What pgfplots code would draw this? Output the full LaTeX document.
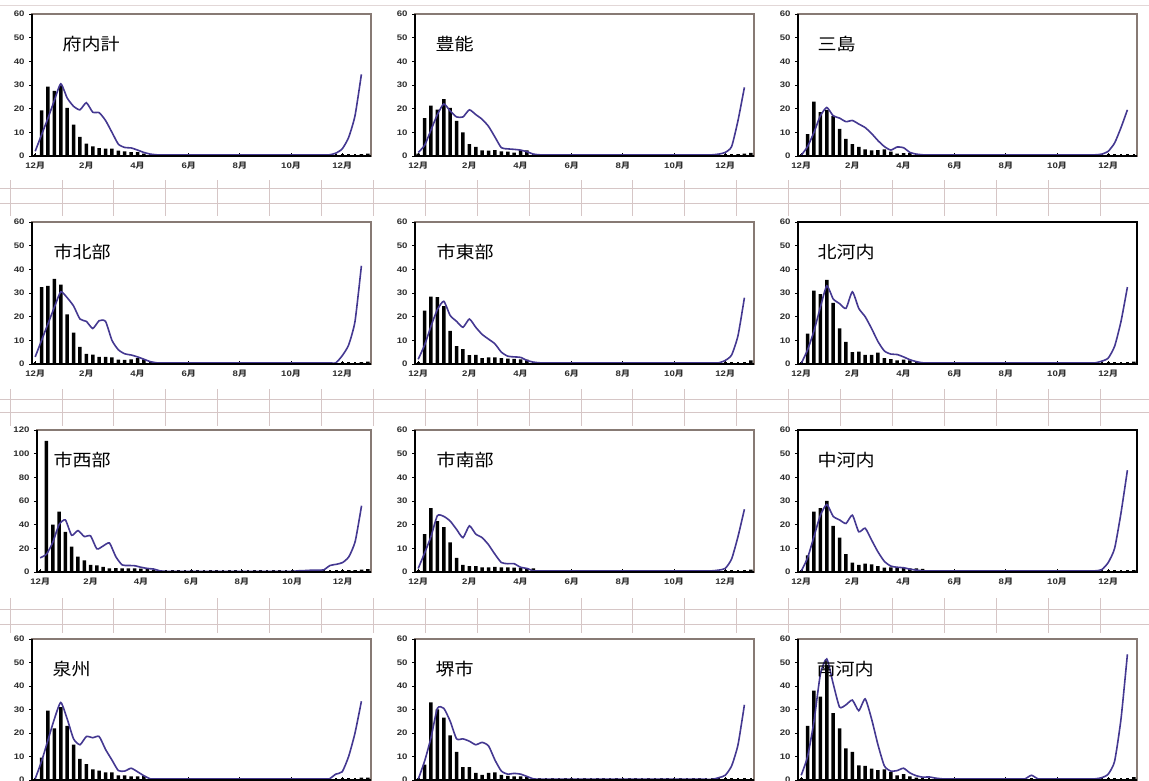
\documentclass[border=0pt]{standalone}
\usepackage{fontspec}
\setmainfont{Liberation Sans}[FakeStretch=1.2]
\newfontfamily\jp{Noto Sans CJK JP}[FakeStretch=1.12]
\usepackage{pgfplots}
\pgfplotsset{compat=1.18}
\definecolor{linec}{RGB}{68,56,145}
\definecolor{framec}{RGB}{135,122,116}
\definecolor{gridc}{RGB}{214,198,198}
\definecolor{tickc}{RGB}{45,45,45}
\pgfplotsset{
  panel/.style={
    scale only axis, width=339pt, height=142pt, anchor=north west,
    xmin=-0.5, xmax=52.5, ymin=0, ymax=60,
    ytick={0,10,...,60},
    axis line style={draw=framec, line width=1.3pt},
    xtick={0,8,16,24,32,40,48},
    xticklabels={12{\jp 月},2{\jp 月},4{\jp 月},6{\jp 月},8{\jp 月},10{\jp 月},12{\jp 月}},
    minor xtick={0,...,52},
    tick pos=left,
    xtick align=inside, ytick align=outside,
    major tick length=3pt, minor tick length=2pt,
    every major tick/.style={black, line width=0.8pt},
    every minor tick/.style={black, line width=2.6pt},
    /pgf/number format/assume math mode=true,
    ticklabel style={font=\bfseries\fontsize{8}{9}\selectfont, text=tickc},
    yticklabel style={xshift=-1pt},
    xticklabel style={yshift=-2pt},
    after end axis/.code={\draw[black,line width=1.8pt] (rel axis cs:0,1) -- (rel axis cs:0,0) -- (rel axis cs:1,0);},
  },
  blackframe/.style={axis line style={draw=black, line width=1.6pt}},
}
\newcommand{\panel}[6]{%
\begin{axis}[panel, at={(#1)}, #2]
\addplot[ybar, bar width=3.5pt, bar shift=0pt, fill=black, draw=none] coordinates {#4};
\addplot[linec, line width=1.6pt, smooth, tension=0.35, mark=none] coordinates {#5};
\node[anchor=west, font=\jp\fontsize{17}{17}\selectfont] at ([xshift=#6pt,yshift=-30pt]rel axis cs:0,1) {#3};
\end{axis}}
\begin{document}
\begin{tikzpicture}[x=1pt,y=1pt]
\path[use as bounding box] (0,0) rectangle (1149,781);
% spreadsheet grid in the background
\foreach \k in {0,...,21} {\draw[gridc, line width=0.8pt] ({10+51.9*\k},0) -- ({10+51.9*\k},781);}
\foreach \yy in {188,203,399,412,609,624} {\draw[gridc, line width=0.8pt] (0,781-\yy) -- (1149,781-\yy);}
\fill[white] (0,781) rectangle (1149,781-180);
\fill[white] (0,781-216) rectangle (1149,781-389);
\fill[white] (0,781-426) rectangle (1149,781-598);
\fill[white] (0,781-633) rectangle (1149,0);
\draw[gridc!70, line width=0.8pt] (0,776) -- (1149,776);

% Row 1
\panel{32pt,767pt}{}{府内計}
{(1,19.3)(2,29.3)(3,27.5)(4,29.8)(5,20.3)(6,13.2)(7,8.1)(8,5.2)(9,4.1)(10,3.3)(11,3.1)(12,3.1)(13,2.3)(14,2.0)(15,1.6)(16,1.6)(17,1.0)(51,0.8)(52,1.0)}
{(0,2)(1,9)(2,16)(3,23.5)(4,30.5)(5,24.5)(6,21)(7,19.5)(8,22.5)(9,18.5)(10,18.3)(11,15)(12,10)(13,5)(14,3.6)(15,3.4)(16,2.5)(17,1.5)(18,0.8)(19,0.5)(20,0.5)(21,0.5)(22,0.5)(23,0.5)(24,0.5)(25,0.5)(26,0.5)(27,0.5)(28,0.5)(29,0.5)(30,0.5)(31,0.5)(32,0.5)(33,0.5)(34,0.5)(35,0.5)(36,0.5)(37,0.5)(38,0.5)(39,0.5)(40,0.5)(41,0.5)(42,0.5)(43,0.5)(44,0.5)(45,0.5)(46,0.5)(47,1.2)(48,3)(49,7.8)(50,17)(51,34.5)}{27}
\panel{415pt,767pt}{}{豊能}
{(0,1)(1,16)(2,21.3)(3,19.6)(4,24)(5,20.3)(6,14.8)(7,10)(8,5)(9,3.8)(10,2.4)(11,2.3)(12,2.5)(13,2)(14,1.8)(15,1.4)(16,2.5)(17,2.4)(50,0.8)(51,1.0)(52,1.3)}
{(0,1.5)(1,4.5)(2,11)(3,17.5)(4,22)(5,19)(6,16.5)(7,16.5)(8,19.5)(9,17.5)(10,15.5)(11,12.5)(12,8)(13,3.5)(14,3)(15,2.8)(16,2.5)(17,1.8)(18,0.8)(19,0.5)(20,0.5)(21,0.5)(22,0.5)(23,0.5)(24,0.5)(25,0.5)(26,0.5)(27,0.5)(28,0.5)(29,0.5)(30,0.5)(31,0.5)(32,0.5)(33,0.5)(34,0.5)(35,0.5)(36,0.5)(37,0.5)(38,0.5)(39,0.5)(40,0.5)(41,0.5)(42,0.5)(43,0.5)(44,0.5)(45,0.5)(46,0.5)(47,0.8)(48,1.5)(49,4)(50,15)(51,29)}{17}
\panel{798pt,767pt}{}{三島}
{(1,9.2)(2,23)(3,18.5)(4,19.5)(5,17)(6,11.5)(7,7.2)(8,5)(9,3.8)(10,2.8)(11,2.4)(12,2.5)(13,2.8)(14,1.8)(15,1.0)(16,1.2)(17,1.2)}
{(0,0.3)(1,4)(2,10)(3,17)(4,20.5)(5,17)(6,16)(7,14.5)(8,15)(9,13.5)(10,12)(11,9.5)(12,6.5)(13,4)(14,2.5)(15,3.8)(16,3.5)(17,1.5)(18,0.8)(19,0.5)(20,0.5)(21,0.5)(22,0.5)(23,0.5)(24,0.5)(25,0.5)(26,0.5)(27,0.5)(28,0.5)(29,0.5)(30,0.5)(31,0.5)(32,0.5)(33,0.5)(34,0.5)(35,0.5)(36,0.5)(37,0.5)(38,0.5)(39,0.5)(40,0.5)(41,0.5)(42,0.5)(43,0.5)(44,0.5)(45,0.5)(46,0.5)(47,0.8)(48,2)(49,5.5)(50,12)(51,19.5)}{16}

% Row 2
\panel{32pt,559pt}{}{市北部}
{(1,32.5)(2,33)(3,36)(4,33.5)(5,21)(6,13.3)(7,7.2)(8,4.3)(9,4)(10,3)(11,3)(12,2.8)(13,1.8)(14,1.7)(15,2)(16,2.5)(17,2)(51,0.8)(52,1)}
{(0,3)(1,10)(2,17)(3,24)(4,30.5)(5,28)(6,24.5)(7,19)(8,18)(9,15)(10,18.3)(11,18)(12,10)(13,6)(14,4.3)(15,3.8)(16,3)(17,2)(18,1)(19,0.5)(20,0.5)(21,0.5)(22,0.5)(23,0.5)(24,0.5)(25,0.5)(26,0.5)(27,0.5)(28,0.5)(29,0.5)(30,0.5)(31,0.5)(32,0.5)(33,0.5)(34,0.5)(35,0.5)(36,0.5)(37,0.5)(38,0.5)(39,0.5)(40,0.5)(41,0.5)(42,0.5)(43,0.5)(44,0.5)(45,0.5)(46,0.5)(47,0.5)(48,3.5)(49,8)(50,18)(51,41.5)}{18}
\panel{415pt,559pt}{}{市東部}
{(1,22.5)(2,28.5)(3,28.3)(4,24.5)(5,14)(6,7.5)(7,6.3)(8,3.7)(9,3.8)(10,2.5)(11,2.8)(12,2.8)(13,2.5)(14,2.3)(15,2.2)(16,2)(17,1.8)(52,1.5)}
{(0,2)(1,8)(2,16)(3,23)(4,26.5)(5,20.5)(6,18)(7,15.5)(8,19)(9,15.5)(10,12.5)(11,10.5)(12,8.5)(13,5)(14,3.3)(15,3)(16,2.8)(17,1.5)(18,0.8)(19,0.5)(20,0.5)(21,0.5)(22,0.5)(23,0.5)(24,0.5)(25,0.5)(26,0.5)(27,0.5)(28,0.5)(29,0.5)(30,0.5)(31,0.5)(32,0.5)(33,0.5)(34,0.5)(35,0.5)(36,0.5)(37,0.5)(38,0.5)(39,0.5)(40,0.5)(41,0.5)(42,0.5)(43,0.5)(44,0.5)(45,0.5)(46,0.5)(47,0.5)(48,1.5)(49,3.8)(50,12)(51,28)}{18}
\panel{798pt,559pt}{blackframe}{北河内}
{(1,12.8)(2,31)(3,29.5)(4,35.5)(5,25.8)(6,15)(7,9.3)(8,5)(9,5.2)(10,3.8)(11,3.8)(12,4.8)(13,2.5)(14,2.1)(15,1.5)(16,1.8)(17,1.5)(52,1)}
{(0,0.2)(1,6)(2,14)(3,24)(4,33)(5,27.5)(6,25.5)(7,23.5)(8,30.5)(9,23.5)(10,20)(11,15)(12,9.5)(13,5.5)(14,4.2)(15,4)(16,3)(17,1.8)(18,1)(19,0.5)(20,0.5)(21,0.5)(22,0.5)(23,0.5)(24,0.5)(25,0.5)(26,0.5)(27,0.5)(28,0.5)(29,0.5)(30,0.5)(31,0.5)(32,0.5)(33,0.5)(34,0.5)(35,0.5)(36,0.5)(37,0.5)(38,0.5)(39,0.5)(40,0.5)(41,0.5)(42,0.5)(43,0.5)(44,0.5)(45,0.5)(46,0.5)(47,1.2)(48,2.5)(49,7.5)(50,18)(51,32.5)}{16}

% Row 3
\panel{37pt,351pt}{width=334pt, ymax=120, ytick={0,20,...,120}}{市西部}
{(1,110.9)(2,40)(3,51)(4,33.8)(5,21.5)(6,13)(7,9.8)(8,6)(9,5.5)(10,4.3)(11,3)(12,3.3)(13,3)(14,3)(15,3)(16,2.8)(17,2.5)(18,1.8)(48,1)(49,1.5)(50,1.5)(51,2)(52,2.5)}
{(0,12)(1,15)(2,25)(3,40)(4,44)(5,31)(6,35)(7,30)(8,30.5)(9,19.5)(10,22)(11,24.5)(12,13)(13,6)(14,5.5)(15,5.3)(16,4)(17,3)(18,2.5)(19,1)(20,0.5)(21,0.5)(22,0.5)(23,0.5)(24,0.5)(25,0.5)(26,0.5)(27,0.5)(28,0.5)(29,0.5)(30,0.5)(31,0.5)(32,0.5)(33,0.5)(34,0.5)(35,0.5)(36,0.5)(37,0.5)(38,0.5)(39,0.5)(40,0.5)(41,1)(42,1.2)(43,1.5)(44,1.5)(45,1.8)(46,5.5)(47,6.5)(48,8)(49,13)(50,26)(51,56)}{13}
\panel{415pt,351pt}{}{市南部}
{(1,16)(2,27)(3,21.5)(4,19)(5,12.5)(6,6)(7,3)(8,2.5)(9,2.5)(10,2)(11,2)(12,2.2)(13,2)(14,2)(15,1.8)(16,1.8)(17,1.5)(18,1.5)(52,1)}
{(0,1.5)(1,8)(2,15)(3,23.8)(4,23.5)(5,21.5)(6,18)(7,14.5)(8,19.5)(9,16)(10,14.5)(11,11.5)(12,7.5)(13,4)(14,3.5)(15,3.5)(16,2)(17,1.5)(18,0.5)(19,0.5)(20,0.5)(21,0.5)(22,0.5)(23,0.5)(24,0.5)(25,0.5)(26,0.5)(27,0.5)(28,0.5)(29,0.5)(30,0.5)(31,0.5)(32,0.5)(33,0.5)(34,0.5)(35,0.5)(36,0.5)(37,0.5)(38,0.5)(39,0.5)(40,0.5)(41,0.5)(42,0.5)(43,0.5)(44,0.5)(45,0.5)(46,0.5)(47,0.8)(48,1.5)(49,5.5)(50,15)(51,26.5)}{18}
\panel{798pt,351pt}{blackframe}{中河内}
{(1,7)(2,25.5)(3,27)(4,30)(5,19.5)(6,14.5)(7,7.5)(8,4)(9,3)(10,3.5)(11,3.2)(12,2.5)(13,1.8)(14,2)(15,1.8)(16,1.8)(17,1.5)(18,1.5)(19,1.3)(52,0.8)}
{(0,0.3)(1,6)(2,15)(3,24)(4,28.5)(5,23.5)(6,22)(7,20.5)(8,24)(9,17)(10,18.5)(11,13.5)(12,8.5)(13,4.5)(14,2.5)(15,2)(16,1.8)(17,1.2)(18,0.8)(19,0.5)(20,0.5)(21,0.5)(22,0.5)(23,0.5)(24,0.5)(25,0.5)(26,0.5)(27,0.5)(28,0.5)(29,0.5)(30,0.5)(31,0.5)(32,0.5)(33,0.5)(34,0.5)(35,0.5)(36,0.5)(37,0.5)(38,0.5)(39,0.5)(40,0.5)(41,0.5)(42,0.5)(43,0.5)(44,0.5)(45,0.5)(46,0.5)(47,1)(48,4)(49,10)(50,25)(51,43)}{16}

% Row 4 (its month labels fall below the picture's edge, as in the reference)
\panel{32pt,142pt}{height=141pt, xticklabels={}}{泉州}
{(1,9.5)(2,29.5)(3,22)(4,31)(5,23)(6,15)(7,9)(8,6.8)(9,4.5)(10,4)(11,3.2)(12,3.2)(13,2)(14,2)(15,1.5)(16,1.5)(17,1.8)(51,1)(52,1)}
{(0,0.5)(1,8)(2,17)(3,26)(4,33)(5,26)(6,17.5)(7,15)(8,18.5)(9,18)(10,18.5)(11,13)(12,8.5)(13,4)(14,3.8)(15,5)(16,3.5)(17,1.8)(18,0.5)(19,0.5)(20,0.5)(21,0.5)(22,0.5)(23,0.5)(24,0.5)(25,0.5)(26,0.5)(27,0.5)(28,0.5)(29,0.5)(30,0.5)(31,0.5)(32,0.5)(33,0.5)(34,0.5)(35,0.5)(36,0.5)(37,0.5)(38,0.5)(39,0.5)(40,0.5)(41,0.5)(42,0.5)(43,0.5)(44,0.5)(45,0.5)(46,0.5)(47,2.5)(48,3.5)(49,10)(50,20)(51,33.5)}{17}
\panel{415pt,142pt}{height=141pt, xticklabels={}}{堺市}
{(1,6.5)(2,33)(3,30)(4,26.5)(5,19)(6,12)(7,5.5)(8,5.5)(9,3)(10,2.2)(11,3)(12,3.2)(13,2.2)(14,1.8)(15,1.5)(16,1.5)(17,1.2)}
{(0,0.3)(1,8)(2,18)(3,30.5)(4,30.5)(5,25)(6,17.5)(7,17.5)(8,16.5)(9,15)(10,16)(11,14.5)(12,8.5)(13,3.8)(14,2.5)(15,2.8)(16,2.5)(17,1.5)(18,0.5)(19,0.3)(20,0.3)(21,0.3)(22,0.3)(23,0.3)(24,0.3)(25,0.3)(26,0.3)(27,0.3)(28,0.3)(29,0.3)(30,0.3)(31,0.3)(32,0.3)(33,0.3)(34,0.3)(35,0.3)(36,0.3)(37,0.3)(38,0.3)(39,0.3)(40,0.3)(41,0.3)(42,0.3)(43,0.3)(44,0.3)(45,0.3)(46,0.3)(47,1)(48,2)(49,6)(50,15)(51,32)}{17}
\panel{798pt,142pt}{height=141pt, xticklabels={}}{南河内}
{(1,23)(2,38)(3,35.5)(4,49)(5,28.5)(6,22)(7,13.5)(8,12)(9,6.2)(10,6)(11,4.8)(12,4.2)(13,4.5)(14,3.5)(15,2)(16,2.5)(17,1.5)(18,1)(52,1.2)}
{(0,2)(1,10)(2,25)(3,45)(4,51.5)(5,41)(6,31)(7,32)(8,34)(9,29.5)(10,34.5)(11,26)(12,15)(13,6)(14,3.8)(15,4)(16,5)(17,3)(18,1.8)(19,1.2)(20,1.3)(21,0.8)(22,0.5)(23,0.5)(24,0.5)(25,0.5)(26,0.5)(27,0.5)(28,0.5)(29,0.5)(30,0.5)(31,0.5)(32,0.5)(33,0.5)(34,0.5)(35,0.5)(36,2)(37,0.5)(38,0.5)(39,0.5)(40,0.5)(41,0.5)(42,0.5)(43,0.5)(44,0.5)(45,0.5)(46,0.5)(47,1)(48,2.5)(49,8)(50,26)(51,53.5)}{15}
\end{tikzpicture}
\end{document}
